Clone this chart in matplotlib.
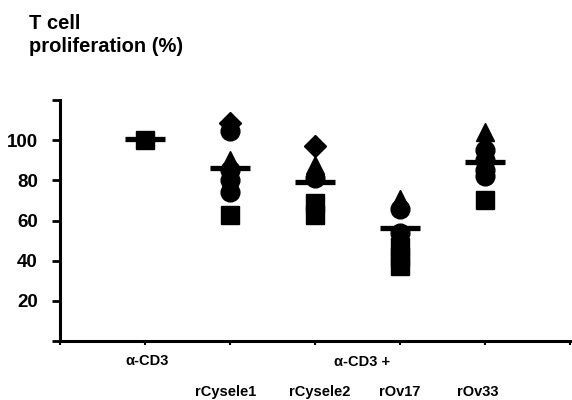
import matplotlib
matplotlib.use("Agg")
import matplotlib.pyplot as plt
import matplotlib.transforms as mtransforms

plt.rcParams['font.family'] = ['Liberation Sans', 'DejaVu Sans']
plt.rcParams['font.weight'] = 'bold'

# ---- data ----
groups = ["rCysele1", "rCysele2", "rOv17", "rOv33"]
control_label = "α-CD3"
combo_label = "α-CD3 +"
positions = [1, 2, 3, 4, 5]          # α-CD3, rCysele1, rCysele2, rOv17, rOv33
means = [100.5, 86, 79, 56.5, 89]
square_vals = [[100], [62.5], [68.5, 62.5], [47, 42, 37.5], [70]]
diamond_vals = [[], [108.5], [97], [], []]
triangle_vals = [[], [90], [87.5], [70.5], [104]]
circle_vals = [[], [104.5, 85, 80, 74], [81], [65.5, 54], [95, 90, 85, 82]]
yticks = [0, 20, 40, 60, 80, 100, 120]
ytick_labels = ["", "20", "40", "60", "80", "100", ""]

fig = plt.figure(figsize=(5.72, 4.0), dpi=100)
ax = fig.add_axes([60 / 572, 59 / 400, 510 / 572, 241 / 400])

ms = 13.5
for pos, vals in zip(positions, circle_vals):
    ax.plot([pos] * len(vals), vals, 'o', color='black', ms=ms, mec='black', ls='none', zorder=3)
for pos, vals in zip(positions, triangle_vals):
    ax.plot([pos] * len(vals), vals, '^', color='black', ms=ms, mec='black', ls='none', zorder=3)
for pos, vals in zip(positions, diamond_vals):
    ax.plot([pos] * len(vals), vals, 'D', color='black', ms=11, mec='black', ls='none', zorder=3)
for pos, vals in zip(positions, square_vals):
    ax.plot([pos] * len(vals), vals, 's', color='black', ms=ms, mec='black', ls='none', zorder=3)

half = 0.24
for pos, m in zip(positions, means):
    ax.plot([pos - half, pos + half], [m, m], color='black', lw=3.8, solid_capstyle='butt', zorder=4)

ax.set_xlim(0, 6)
ax.set_ylim(0, 120)
ax.set_yticks(yticks)
ax.set_yticklabels(ytick_labels, fontsize=13.5, fontweight='bold')
ax.set_xticks(range(0, 7))
ax.set_xticklabels([])
ax.tick_params(axis='y', direction='out', length=6, width=2, pad=10)
ax.tick_params(axis='x', direction='out', length=3, width=1.5)
for s in ['top', 'right']:
    ax.spines[s].set_visible(False)
for s in ['left', 'bottom']:
    ax.spines[s].set_linewidth(2.2)

trans = mtransforms.blended_transform_factory(ax.transData, fig.transFigure)
ax.text(1.03, 1 - 361 / 400, control_label, transform=trans, ha='center', va='center',
        fontsize=10.5, fontweight='bold')
ax.text(3.55, 1 - 362 / 400, combo_label, transform=trans, ha='center', va='center',
        fontsize=10.5, fontweight='bold')
label_x = [1.95, 3.05, 4.0, 4.92]
for lx, g in zip(label_x, groups):
    ax.text(lx, 1 - 392 / 400, g, transform=trans, ha='center', va='center',
            fontsize=10.5, fontweight='bold')

fig.text(29 / 572, 1 - 14 / 400, "T cell\nproliferation (%)", ha='left', va='top',
         fontsize=14.5, fontweight='bold', linespacing=1.25)

fig.savefig("out.png", dpi=100)
